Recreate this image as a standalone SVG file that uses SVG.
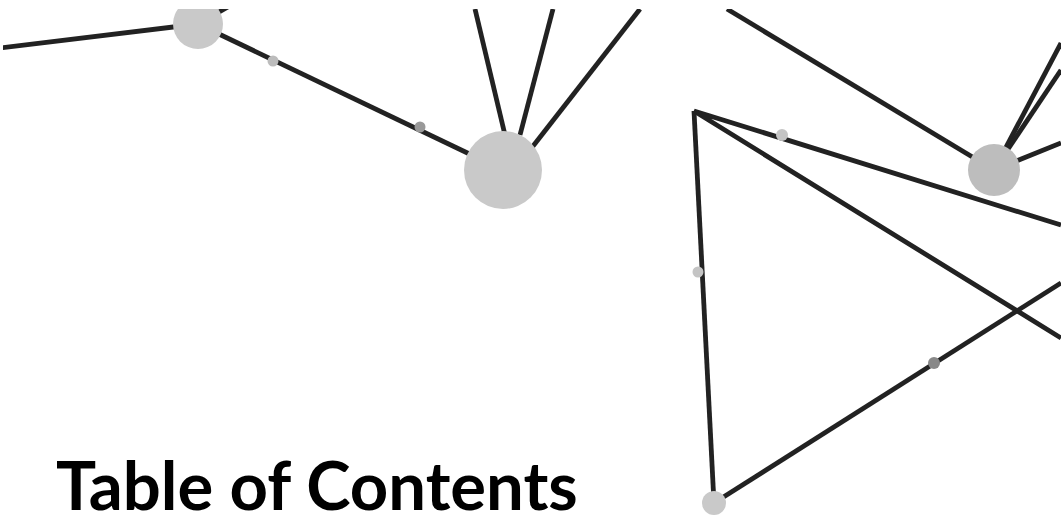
<svg xmlns="http://www.w3.org/2000/svg" width="1061" height="520" viewBox="0 0 1061 520">
<style>
.e{stroke:#222;stroke-width:4.8;fill:none;stroke-linecap:butt}
.n{fill:#c9c9c9}
.t{font-family:Lato,"Liberation Sans",sans-serif;font-weight:700;font-size:67px;fill:#000}
</style>
<defs><clipPath id="c"><rect x="3" y="9" width="1058" height="511"/></clipPath></defs>
<rect width="1061" height="520" fill="#fff"/>
<g id="connectors" clip-path="url(#c)">
<line class="e" x1="0" y1="48" x2="198" y2="24"/>
<line class="e" x1="198" y1="24" x2="240" y2="0"/>
<line class="e" x1="198" y1="24" x2="503" y2="170"/>
<line class="e" x1="475" y1="9" x2="505" y2="135"/>
<line class="e" x1="553" y1="9" x2="520" y2="135"/>
<line class="e" x1="640" y1="9" x2="530" y2="150"/>
<line class="e" x1="727" y1="9" x2="994" y2="170"/>
<line class="e" x1="994" y1="170" x2="1061" y2="43"/>
<line class="e" x1="994" y1="170" x2="1061" y2="70"/>
<line class="e" x1="994" y1="170" x2="1061" y2="143"/>
<polyline class="e" points="1061,225 694,111 1061,338" stroke-linejoin="miter"/>
<line class="e" x1="694" y1="111" x2="714" y2="503"/>
<line class="e" x1="714" y1="503" x2="1061" y2="283"/>
</g>
<g id="nodeA"><circle class="n" cx="198" cy="24" r="25" clip-path="url(#c)"/></g>
<g id="nodeB"><circle class="n" cx="503" cy="170" r="39"/></g>
<g id="nodeE"><circle cx="994" cy="170" r="26" fill="#bdbdbd"/></g>
<g id="nodeD"><circle class="n" cx="714" cy="503" r="12"/></g>
<g id="dot1"><circle cx="273" cy="61" r="5.5" fill="#bcbcbc"/></g>
<g id="dot2"><circle cx="420" cy="127" r="5.5" fill="#999"/></g>
<g id="dot3"><circle cx="782" cy="135" r="6" fill="#c4c4c4"/></g>
<g id="dot4"><circle cx="698" cy="272" r="5.5" fill="#c4c4c4"/></g>
<g id="dot5"><circle cx="934" cy="363" r="6" fill="#888"/></g>
<g id="title"><text class="t" x="56" y="510">Table of Contents</text></g>
</svg>
